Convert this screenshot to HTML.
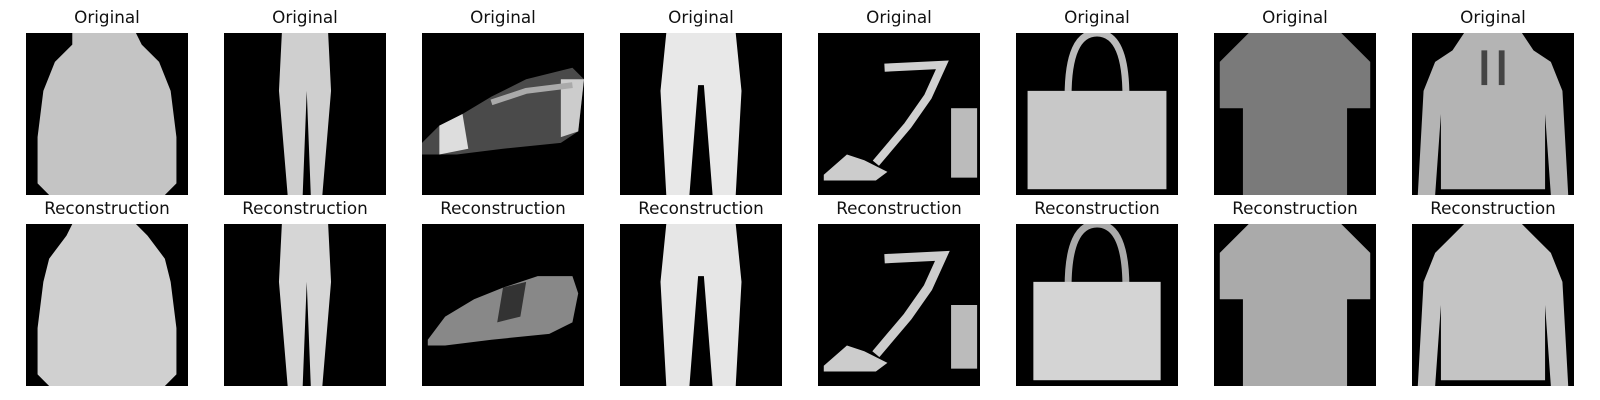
<!DOCTYPE html>
<html><head><meta charset="utf-8">
<style>
body{margin:0;background:#fff;width:1600px;height:400px;overflow:hidden;position:relative;font-family:"DejaVu Sans","Liberation Sans",sans-serif}
.t{position:absolute;width:162px;text-align:center;font-size:16.8px;color:#111;line-height:20px}
svg.im{position:absolute;width:162px;height:162px;background:#000}
</style></head><body>
<div id="root"></div>
<script>
const labels=['coat','trouser','sandal','trouser-white','heeled-sandal','bag','tshirt','hoodie'];
const shapesOrig=[
'<polygon points="8,0 19,0 20,2 23,5 25,10 26,18 26,26 24,28 4,28 2,26 2,18 3,10 5,5 8,2" fill="#c4c4c4"/>',
'<polygon points="10,0 18,0 18.5,10 17,28 15,28 14.3,10 13.6,28 11,28 9.5,10" fill="#cfcfcf"/>',
'<polygon points="0,19 3,16 7,14 12,11 18,8 26,6 28,8 27,17 24,19 14,20 6,21 0,21" fill="#4a4a4a"/><polygon points="3,16 7,14 8,20 3,21" fill="#ddd"/><polygon points="24,8 28,8 27,17 24,18" fill="#ccc"/><polyline points="12,12 18,10 26,9" stroke="#aaa" stroke-width="1" fill="none"/>',
'<polygon points="8,0 20,0 21,10 20,28 16,28 14.5,9 13.5,9 12,28 8,28 7,10" fill="#e8e8e8"/>',
'<polyline points="11.5,6 21.5,5.5 19,11 15.5,16 10,22.5" stroke="#d0d0d0" stroke-width="1.4" fill="none"/><rect x="23" y="13" width="4.5" height="12" fill="#bbb"/><polygon points="1,24.5 5,21 8,22 12,24 10,25.5 1,25.5" fill="#ccc"/>',
'<path d="M9,11 Q9,0 14,0 Q19,0 19,11" stroke="#bbb" stroke-width="1.2" fill="none"/><rect x="2" y="10" width="24" height="17" fill="#c8c8c8"/>',
'<polygon points="6,0 22,0 27,5 27,13 23,13 23,28 5,28 5,13 1,13 1,5" fill="#7a7a7a"/>',
'<polygon points="9,0 19,0 21,3 24,5 26,10 27,28 24,28 23,14 23,27 5,27 5,14 4,28 1,28 2,10 4,5 7,3" fill="#b4b4b4"/><rect x="12" y="3" width="1" height="6" fill="#444"/><rect x="15" y="3" width="1" height="6" fill="#444"/>'
];
const shapesRec=[
'<polygon points="8,0 19,0 21,2 24,6 25,10 26,18 26,26 24,28 4,28 2,26 2,18 3,10 4,6 7,2" fill="#d0d0d0"/>',
'<polygon points="10,0 18,0 18.5,10 17,28 15,28 14.3,10 13.6,28 11,28 9.5,10" fill="#d6d6d6"/>',
'<polygon points="1,20 4,16 9,13 14,11 20,9 26,9 27,12 26,17 22,19 12,20 4,21 1,21" fill="#888"/><polygon points="14,11 18,10 17,16 13,17" fill="#333"/>',
'<polygon points="8,0 20,0 21,10 20,28 16,28 14.5,9 13.5,9 12,28 8,28 7,10" fill="#e6e6e6"/>',
'<polyline points="11.5,6 21.5,5.5 19,11 15.5,16 10,22.5" stroke="#ccc" stroke-width="1.6" fill="none"/><rect x="23" y="14" width="4.5" height="11" fill="#bbb"/><polygon points="1,24.5 5,21 8,22 12,24 10,25.5 1,25.5" fill="#ccc"/>',
'<path d="M9,11 Q9,0 14,0 Q19,0 19,11" stroke="#aaa" stroke-width="1.2" fill="none"/><rect x="3" y="10" width="22" height="17" fill="#d4d4d4"/>',
'<polygon points="6,0 22,0 27,5 27,13 23,13 23,28 5,28 5,13 1,13 1,5" fill="#aaa"/>',
'<polygon points="9,0 19,0 21,2 24,5 26,10 27,28 24,28 23,14 23,27 5,27 5,14 4,28 1,28 2,10 4,5 7,2" fill="#c4c4c4"/>'
];
const root=document.getElementById('root');
for(let r=0;r<2;r++){
 for(let c=0;c<8;c++){
  const x=26+c*198, y=r?224:33;
  const t=document.createElement('div');
  t.className='t';t.style.left=x+'px';t.style.top=(y-26)+'px';
  t.textContent=r?'Reconstruction':'Original';
  
  
  root.appendChild(t);
  const s=document.createElementNS('http://www.w3.org/2000/svg','svg');
  s.setAttribute('class','im');s.setAttribute('viewBox','0 0 28 28');
  s.style.left=x+'px';s.style.top=y+'px';
  s.innerHTML=(r?shapesRec:shapesOrig)[c];
  
  
  root.appendChild(s);
 }
}
</script>
</body></html>
